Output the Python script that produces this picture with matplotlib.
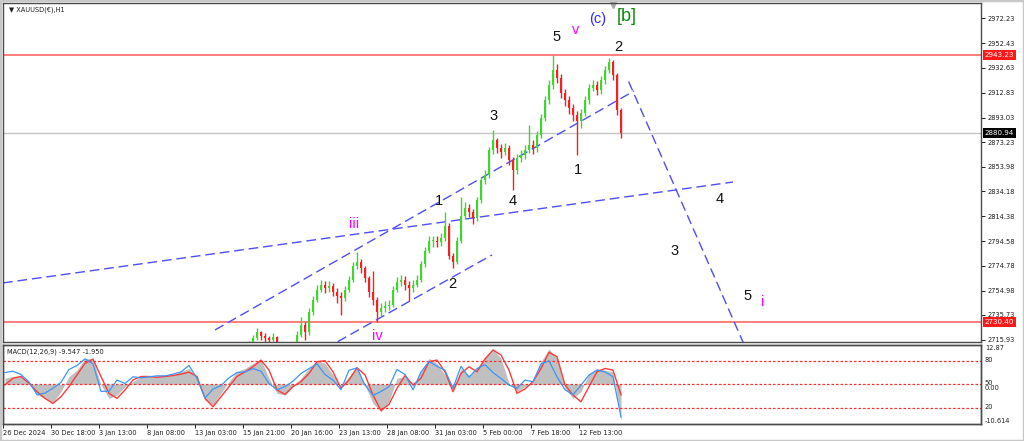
"""XAUUSD H1 Elliott-wave chart with MACD sub-window (MT4 style) -> out.png"""

import numpy as np
import matplotlib
matplotlib.use("Agg")
import matplotlib.pyplot as plt
from matplotlib.patches import Rectangle
from matplotlib.transforms import blended_transform_factory

W, H = 1024, 441

# ---- price data: one slot ~ 5 H1 bars, slots 60..154 ----
FIRST_SLOT = 60
FIRST_OPEN = 2705.0
CLOSE = [2708, 2712, 2717, 2722, 2719, 2717, 2716, 2718, 2712, 2706,
         2704, 2706, 2709, 2720, 2728, 2722, 2738, 2748, 2756, 2760,
         2757, 2759, 2754, 2751, 2749, 2756, 2764, 2775, 2778, 2773,
         2765, 2754, 2748, 2738, 2741, 2743, 2744, 2756, 2762, 2764,
         2760, 2757, 2760, 2764, 2776, 2787, 2795, 2795, 2794, 2797,
         2807, 2783, 2778, 2795, 2815, 2821, 2818, 2813, 2827, 2843,
         2847, 2867, 2875, 2869, 2866, 2869, 2859, 2851, 2861, 2863,
         2867, 2871, 2869, 2879, 2893, 2907, 2919, 2931, 2925, 2913,
         2907, 2901, 2895, 2890, 2897, 2907, 2917, 2919, 2915, 2923,
         2931, 2937, 2927, 2899, 2880.94]
HIGH = [2712, 2715, 2720, 2725, 2723, 2721, 2719, 2721, 2719, 2713,
        2708, 2709, 2712, 2723, 2734, 2730, 2741, 2751, 2760, 2764,
        2763, 2763, 2761, 2757, 2754, 2759, 2767, 2778, 2786, 2780,
        2775, 2767, 2771, 2750, 2745, 2747, 2748, 2759, 2766, 2768,
        2767, 2763, 2764, 2768, 2779, 2790, 2799, 2799, 2799, 2801,
        2818, 2809, 2785, 2798, 2830, 2826, 2824, 2820, 2830, 2846,
        2851, 2870, 2883, 2877, 2872, 2873, 2871, 2862, 2864, 2867,
        2871, 2887, 2875, 2882, 2896, 2910, 2923, 2943.2, 2936, 2928,
        2916, 2910, 2904, 2898, 2900, 2910, 2920, 2923, 2922, 2926,
        2934, 2940.6, 2939, 2929, 2901]
LOW = [2704, 2707, 2711, 2716, 2716, 2714, 2713, 2714, 2709, 2703,
       2700, 2702, 2705, 2707, 2718, 2716, 2720, 2736, 2746, 2754,
       2753, 2754, 2751, 2745, 2736, 2747, 2754, 2762, 2772, 2769,
       2762, 2750, 2744, 2730.4, 2735, 2738, 2740, 2742, 2754, 2759,
       2756, 2747, 2754, 2758, 2762, 2774, 2785, 2790, 2790, 2791,
       2795, 2780, 2773, 2776, 2793, 2812, 2814, 2808, 2811, 2825,
       2840, 2845, 2864, 2865, 2861, 2863, 2855, 2835, 2848, 2858,
       2860, 2865, 2864, 2866, 2877, 2890, 2904, 2916, 2921, 2909,
       2902, 2896, 2890, 2863, 2885, 2894, 2904, 2914, 2911, 2912,
       2920, 2929, 2923, 2895, 2877]

LAST_PRICE = 2880.94
RES_LEVEL = 2943.23
SUP_LEVEL = 2730.40

# ---- MACD window, sampled every 2 slots from slot 0 ----
MACD_HIST = [3.0, 3.5, 3.8, 1.5, -2.0, -3.0, -4.2, -1.0, 3.5, 5.4,
             8.9, 8.7, 1.0, -3.0, -2.0, 0.5, 2.0, 3.5, 3.8, 3.5,
             3.8, 4.0, 5.0, 5.9, 3.0, -3.5, -5.0, -1.5, 2.0, 5.0,
             5.9, 7.4, 8.4, 3.0, -1.5, -2.0, 0.5, 3.0, 5.9, 8.4,
             7.4, 4.0, 0.5, 3.5, 6.4, 1.0, -4.5, -7.0, -4.0, 3.0,
             3.5, 0.5, 4.9, 8.9, 7.4, 4.0, -0.5, 5.9, 4.0, 5.9,
             9.4, 11.7, 8.9, 1.5, -1.0, 0.5, 2.0, 7.9, 11.7, 8.9,
             0.0, -3.0, -1.0, 4.4, 5.9, 5.4, 4.9, -9.547]
MACD_SIGNAL = [1.0, 3.0, 3.5, 1.5, -1.0, -3.0, -4.5, -2.5, 0.5, 4.0,
               7.4, 8.7, 3.5, -1.5, -3.0, -0.5, 2.5, 3.5, 3.5, 3.3,
               3.5, 3.8, 4.2, 4.8, 3.5, -3.0, -5.5, -2.5, 0.5, 3.5,
               4.9, 6.4, 8.4, 5.4, -0.5, -1.8, 0.5, 2.0, 4.4, 7.9,
               8.2, 4.9, 0.0, 2.5, 6.1, 4.0, -2.0, -6.6, -4.8, 0.0,
               3.8, 1.0, 3.0, 7.9, 8.4, 4.9, -1.0, 4.4, 6.4, 4.9,
               8.7, 11.4, 9.9, 5.4, -1.5, -0.2, 2.0, 5.9, 10.7, 9.4,
               1.0, -2.0, -4.0, 0.5, 4.9, 5.9, 5.4, -1.95]
OSC_BLUE = [65, 66.7, 62.5, 53, 36.7, 38.8, 45, 52.5, 69, 74,
            82.5, 76, 41, 41, 55.4, 51, 59.6, 58.3, 59.6, 60.8,
            60.8, 63, 65.8, 74, 57.5, 32.5, 44, 48.3, 58.3, 65,
            65.8, 70, 66.7, 51, 43, 47, 54, 63.8, 70, 76,
            62.5, 55.4, 43, 68, 70.8, 49, 35.8, 40.8, 47, 69,
            62.5, 43, 65.8, 79, 73, 68, 45, 73, 59, 70,
            75, 65, 57.5, 49, 45, 55.4, 53.3, 76, 80, 59.6,
            43, 36.7, 49, 61.7, 68, 65.8, 59.6, 8]
OSC_LEVELS = [80, 50, 20]

DATE_LABELS = ["26 Dec 2024", "30 Dec 18:00", "3 Jan 13:00", "8 Jan 08:00",
               "13 Jan 03:00", "15 Jan 21:00", "20 Jan 16:00", "23 Jan 13:00",
               "28 Jan 08:00", "31 Jan 03:00", "5 Feb 00:00", "7 Feb 18:00",
               "12 Feb 13:00"]
PRICE_TICKS = [2972.23, 2952.43, 2932.63, 2912.83, 2893.03, 2873.23, 2853.98,
               2834.18, 2814.38, 2794.58, 2774.78, 2754.98, 2735.73, 2715.93]

# trendlines: (slot0, price0, slot1, price1)
TRENDLINES = [(-0.5, 2761.3, 182.0, 2841.7),
              (52.5, 2723.8, 157.25, 2914.3),
              (80.0, 2708.8, 121.75, 2783.6),
              (155.9, 2921.8, 186.0, 2703.3)]

# wave labels: (text, slot, price, colour, size)
WAVES = [("5", 138.0, 2957.3, "#111111", 10.5),
         ("v", 142.75, 2962.9, "#ff00ff", 10.5),
         ("(c)", 148.25, 2971.7, "#2a2aff", 10.5),
         ("[b]", 155.5, 2974.0, "#0a8a0a", 13),
         ("2", 153.25, 2949.3, "#111111", 10.5),
         ("3", 122.25, 2894.3, "#111111", 10.5),
         ("1", 143.25, 2851.3, "#111111", 10.5),
         ("4", 127.0, 2826.6, "#111111", 10.5),
         ("1", 108.5, 2826.6, "#111111", 10.5),
         ("iii", 87.25, 2808.3, "#ff00ff", 10.5),
         ("2", 111.75, 2760.5, "#111111", 10.5),
         ("iv", 93.0, 2719.0, "#ff00ff", 10.5),
         ("ii", 45.0, 2708.5, "#ff00ff", 10.5),
         ("4", 178.75, 2828.2, "#111111", 10.5),
         ("3", 167.5, 2786.8, "#111111", 10.5),
         ("5", 185.75, 2750.9, "#111111", 10.5),
         ("i", 189.5, 2746.1, "#ff00ff", 10.5)]

HIST_BASE = 1.19   # MT4 draws the histogram from the window's mid line
FS = 4.8
RIGHT = 981        # right frame, px
XMAX = (RIGHT - 5) / 4

fig = plt.figure(figsize=(W / 100, H / 100), dpi=100)
fig.patch.set_facecolor("white")
fig.patches.append(Rectangle((0, 0), 1, 1, transform=fig.transFigure,
                             fill=False, ec="#c8c8c8", lw=2.5))

# ---- main price window ----
ax = fig.add_axes([3 / W, 1 - 342 / H, (RIGHT - 3) / W, 339 / H])
ax.set_xlim(-0.5, XMAX)
ax.set_ylim(2714.2, 2984.4)

closes = np.array(CLOSE, dtype=float)
opens = np.concatenate([[FIRST_OPEN], closes[:-1]])
highs = np.array(HIGH, dtype=float)
lows = np.array(LOW, dtype=float)
slots = np.arange(FIRST_SLOT, FIRST_SLOT + len(closes))
up = closes >= opens
cols = np.where(up, "#44d234", "#f22222")
ax.vlines(slots, lows, highs, colors=cols, lw=1.0, zorder=3)
ax.bar(slots, np.maximum(np.abs(closes - opens), 0.6),
       bottom=np.minimum(opens, closes), width=0.7, color=cols, lw=0, zorder=3)

ax.axhline(RES_LEVEL, color="#ff5a5a", lw=1.1, zorder=2)
ax.axhline(SUP_LEVEL, color="#ff5a5a", lw=1.1, zorder=2)
ax.axhline(LAST_PRICE, color="#c4c4c4", lw=1.0, zorder=1)

for s0, p0, s1, p1 in TRENDLINES:
    ax.plot([s0, s1], [p0, p1], color="#4e4efa", lw=1.0,
            linestyle=(0, (7, 3.5)), zorder=2)

for txt, s, p, c, size in WAVES:
    ax.text(s, p, txt, color=c, fontsize=size, ha="center", va="center",
            family=["Liberation Sans", "DejaVu Sans"], zorder=5, clip_on=True)

ax.yaxis.tick_right()
ax.set_yticks(PRICE_TICKS)
ax.set_yticklabels(["%.2f" % v for v in PRICE_TICKS])
ax.tick_params(axis="y", length=3, width=0.7, pad=2, labelsize=FS,
               colors="#202020")
ax.tick_params(axis="x", bottom=False, labelbottom=False)
for sp in ax.spines.values():
    sp.set_color("#4a4a4a")
    sp.set_linewidth(1.0)

bt = blended_transform_factory(ax.transAxes, ax.transData)
for lvl, fc in [(RES_LEVEL, "#ff1a1a"), (SUP_LEVEL, "#ff1a1a"), (LAST_PRICE, "#000000")]:
    ax.text(1.004, lvl, "%.2f" % lvl, transform=bt, fontsize=FS + 0.3, color="white",
            ha="left", va="center", clip_on=False, zorder=6,
            bbox=dict(boxstyle="square,pad=0.3", fc=fc, ec="none"))

ax.plot([152], [1 - 2 / 339], marker="v", ms=4, color="#a8a8a8",
        transform=blended_transform_factory(ax.transData, ax.transAxes),
        clip_on=False)
ax.text(6 / 984, 1 - 7 / 339, "\u25bc XAUUSD(\u20ac),H1", transform=ax.transAxes,
        fontsize=FS, color="#202020", ha="left", va="center")

# ---- MACD window ----
axm2 = fig.add_axes([3 / W, 1 - 424 / H, (RIGHT - 3) / W, 79 / H])
axm2.set_xlim(-0.5, XMAX)
axm2.set_ylim(-10.614, 12.87)
axm = axm2.twinx()
axm.set_ylim(-0.7, 100.2)

mx = np.arange(len(MACD_HIST)) * 2
axm2.fill_between(mx, MACD_HIST, HIST_BASE, color="#c0c0c0", lw=0, zorder=1)
axm2.plot(mx, MACD_SIGNAL, color="#ff3a3a", lw=1.0, zorder=3)
for lv in OSC_LEVELS:
    axm.axhline(lv, color="#ff2e2e", lw=0.9, linestyle=(0, (2, 1.6)), zorder=1)
axm.plot(mx, OSC_BLUE, color="#3b97f5", lw=0.9, zorder=2)

for a in (axm, axm2):
    a.tick_params(axis="y", left=False, right=False, labelleft=False, labelright=False)
    for sp in a.spines.values():
        sp.set_color("#4a4a4a")
        sp.set_linewidth(1.0)

tick_pos = np.arange(len(DATE_LABELS)) * 12 - 0.5
axm2.set_xticks(tick_pos)
axm2.set_xticklabels(DATE_LABELS)
axm2.tick_params(axis="x", length=3, width=0.7, pad=1.5, labelsize=FS,
                 colors="#202020")
for lab in axm2.get_xticklabels():
    lab.set_horizontalalignment("left")

bo = blended_transform_factory(axm.transAxes, axm.transData)
for lv in OSC_LEVELS:
    axm.text(1.004, lv + 1.5, str(lv), transform=bo, fontsize=FS,
             color="#202020", ha="left", va="center", clip_on=False)
bm = blended_transform_factory(axm2.transAxes, axm2.transData)
axm2.text(1.004, 0.0, "0.00", transform=bm, fontsize=FS, color="#202020",
          ha="left", va="center", clip_on=False)
axm2.text(1.004, 1.0, "12.87", transform=axm2.transAxes, fontsize=FS,
          color="#202020", ha="left", va="top", clip_on=False)
axm2.text(1.004, 0.0, "-10.614", transform=axm2.transAxes, fontsize=FS,
          color="#202020", ha="left", va="bottom", clip_on=False)
axm2.text(0.004, 0.92, "MACD(12,26,9) -9.547 -1.950", transform=axm2.transAxes,
          fontsize=FS, color="#202020", ha="left", va="center")

fig.savefig("out.png", dpi=100)
